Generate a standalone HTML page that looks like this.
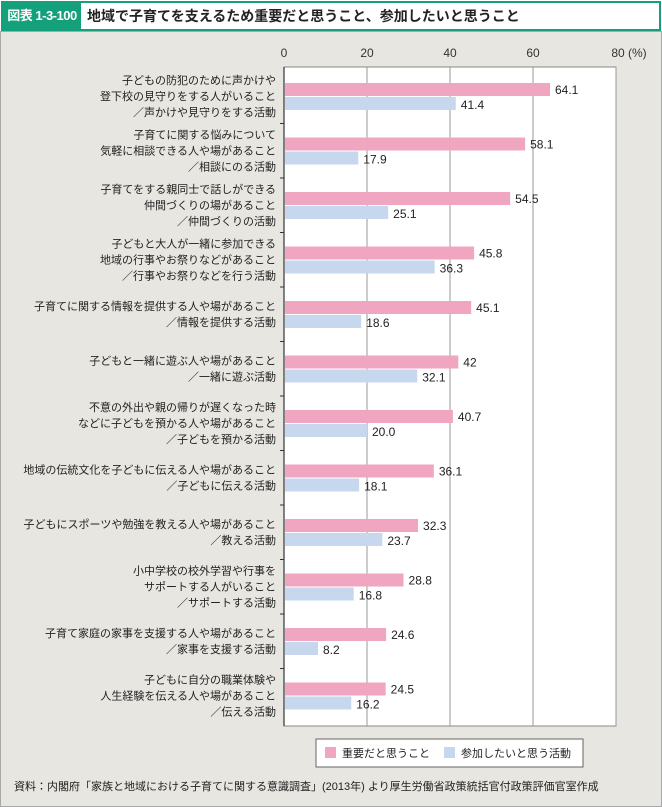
<!DOCTYPE html>
<html><head><meta charset="utf-8"><style>
body{margin:0;width:662px;height:807px;background:#fff;font-family:"Liberation Sans","Noto Sans CJK JP",sans-serif;overflow:hidden;position:relative}
#title{position:absolute;left:1px;top:1px;width:656px;height:26px;border:2px solid #13a07a;background:#fff}
#title .tag{position:absolute;left:0;top:0;width:78px;height:26px;background:#13a07a;color:#fff;font-weight:bold;font-size:13px;line-height:26px;text-align:center;white-space:nowrap;letter-spacing:-0.5px}
#title .txt{position:absolute;left:84px;top:0;line-height:26px;font-size:14px;font-weight:bold;color:#222;white-space:nowrap}
#panel{position:absolute;left:0;top:31px;width:660px;height:774px;background:#e8e6e0;border:1px solid #a8a8a8}
</style></head><body>
<div id="title"><div class="tag">図表 1-3-100</div><div class="txt">地域で子育てを支えるため重要だと思うこと、参加したいと思うこと</div></div>
<div id="panel"></div>
<svg id="chart" width="662" height="807" style="position:absolute;left:0;top:0"></svg>
<script>
const labels=[
["子どもの防犯のために声かけや","登下校の見守りをする人がいること","／声かけや見守りをする活動"],
["子育てに関する悩みについて","気軽に相談できる人や場があること","／相談にのる活動"],
["子育てをする親同士で話しができる","仲間づくりの場があること","／仲間づくりの活動"],
["子どもと大人が一緒に参加できる","地域の行事やお祭りなどがあること","／行事やお祭りなどを行う活動"],
["子育てに関する情報を提供する人や場があること","／情報を提供する活動"],
["子どもと一緒に遊ぶ人や場があること","／一緒に遊ぶ活動"],
["不意の外出や親の帰りが遅くなった時","などに子どもを預かる人や場があること","／子どもを預かる活動"],
["地域の伝統文化を子どもに伝える人や場があること","／子どもに伝える活動"],
["子どもにスポーツや勉強を教える人や場があること","／教える活動"],
["小中学校の校外学習や行事を","サポートする人がいること","／サポートする活動"],
["子育て家庭の家事を支援する人や場があること","／家事を支援する活動"],
["子どもに自分の職業体験や","人生経験を伝える人や場があること","／伝える活動"]];
const important=[64.1,58.1,54.5,45.8,45.1,42,40.7,36.1,32.3,28.8,24.6,24.5];
const participate=[41.4,17.9,25.1,36.3,18.6,32.1,20.0,18.1,23.7,16.8,8.2,16.2];
const importantText=["64.1","58.1","54.5","45.8","45.1","42","40.7","36.1","32.3","28.8","24.6","24.5"];
const participateText=["41.4","17.9","25.1","36.3","18.6","32.1","20.0","18.1","23.7","16.8","8.2","16.2"];
const ticks=[0,20,40,60,80];
const NS="http://www.w3.org/2000/svg",svg=document.getElementById('chart');
const x=v=>284+v*(616-284)/80;
const gy=i=>96+i*54.5;
function mk(t,a,txt){const e=document.createElementNS(NS,t);for(const k in a)e.setAttribute(k,a[k]);if(txt!==undefined)e.textContent=txt;svg.appendChild(e);return e;}
let e=mk('rect',{x:284,y:67,width:332,height:659,fill:'#fff',stroke:'#888','stroke-width':1});

ticks.forEach(t=>{
 if(t>0){let g=mk('line',{x1:x(t),x2:x(t),y1:67,y2:726,stroke:'#999','stroke-width':1});}
 let l=mk('text',{x:x(t),y:57,'text-anchor':'middle','font-size':12,fill:'#333'},t===80?'80 (%)':String(t));
 if(t===80)l.setAttribute('x',x(t)+13);
 
});
let ax=mk('line',{x1:284,x2:284,y1:67,y2:726,stroke:'#333','stroke-width':1.2});

important.forEach((v,i)=>{
 const c=gy(i);
 if(i>0){let tk=mk('line',{x1:280,x2:284,y1:c-27,y2:c-27,stroke:'#333'});}
 let b=mk('rect',{x:285,y:c-13,width:x(v)-285,height:13,fill:'#f0a6c0'});
 
 let t=mk('text',{x:x(v)+5,y:c-2,'font-size':12,fill:'#222'},importantText[i]);
 
 let b2=mk('rect',{x:285,y:c+1,width:x(participate[i])-285,height:13,fill:'#c7d8ee'});
 
 let t2=mk('text',{x:x(participate[i])+5,y:c+13,'font-size':12,fill:'#222'},participateText[i]);
 
 const L=labels[i],n=L.length;
 L.forEach((s,k)=>{let lt=mk('text',{x:276,y:c+(k-(n-1)/2)*16+4,'text-anchor':'end','font-size':11,fill:'#222'},s);
  });
});
let lg=mk('rect',{x:316,y:739,width:267,height:28,fill:'#fff',stroke:'#666'});

let s1=mk('rect',{x:325,y:747,width:11,height:11,fill:'#f0a6c0'});
let l1=mk('text',{x:342,y:757,'font-size':11,fill:'#222'},'重要だと思うこと');
let s2=mk('rect',{x:444,y:747,width:11,height:11,fill:'#c7d8ee'});
let l2=mk('text',{x:461,y:757,'font-size':11,fill:'#222'},'参加したいと思う活動');
let src=mk('text',{x:14,y:790,'font-size':11,fill:'#222'},'資料：内閣府「家族と地域における子育てに関する意識調査」(2013年) より厚生労働省政策統括官付政策評価官室作成');

</script>
</body></html>
